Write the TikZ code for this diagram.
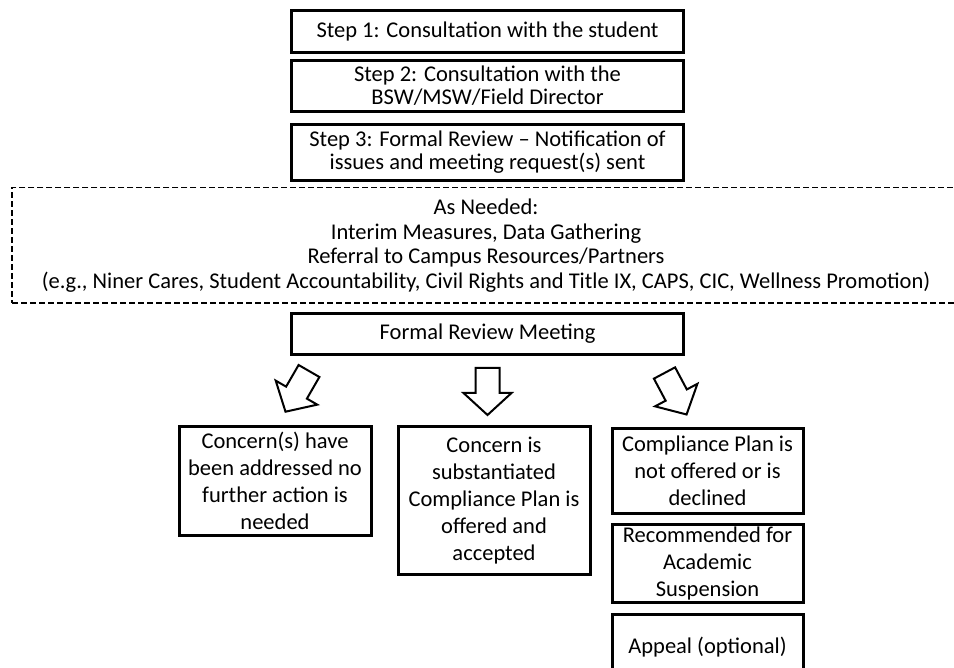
\documentclass[tikz,border=0pt]{standalone}
\usepackage{fontspec}
\setmainfont{Carlito}
\usetikzlibrary{positioning}

\begin{document}
\begin{tikzpicture}[font=\fontsize{11.25}{11.5}\selectfont,
  box/.style={draw, line width=1.5pt, align=center, inner sep=1pt, minimum width=196pt},
  outcome/.style={draw, line width=1.5pt, align=center, inner sep=1pt, minimum width=96pt,
    font=\fontsize{11.25}{13.4}\selectfont},
  needed/.style={draw, dash pattern=on 3pt off 1.5pt, line width=0.75pt, align=center,
    minimum width=474pt, minimum height=57.75pt, font=\fontsize{11.25}{12.25}\selectfont},
  downarrow/.pic={\draw[line width=1pt, line join=miter]
    (-6pt,0) -- (6pt,0) -- (6pt,-12.5pt) -- (12pt,-12.5pt) -- (0,-23.5pt)
    -- (-12pt,-12.5pt) -- (-6pt,-12.5pt) -- cycle;}]
  \useasboundingbox (0,0) rectangle (477pt,-334pt);
  \clip (0,0) rectangle (477pt,-334pt);
  % steps
  \node[box, minimum height=21pt] (s1) at (243.75pt,-15.75pt) {Step 1: Consultation with the student};
  \node[box, minimum height=25.5pt, below=2.5pt of s1] (s2) {Step 2: Consultation with the\\BSW/MSW/Field Director};
  \node[box, minimum height=28pt, below=5pt of s2] (s3) {Step 3: Formal Review -- Notification of\\issues and meeting request(s) sent};
  \node[needed, below=2.5pt of s3, xshift=-0.75pt] (need) {As Needed:\\Interim Measures, Data Gathering\\Referral to Campus Resources/Partners\\(e.g., Niner Cares, Student Accountability, Civil Rights and Title IX, CAPS, CIC, Wellness Promotion)};
  \node[box, minimum height=20.5pt, below=4pt of need, xshift=0.75pt] (frm) {Formal Review Meeting};
  % outcomes
  \node[outcome, minimum height=74pt, below=34.5pt of frm, xshift=3.25pt] (subst) {Concern is\\substantiated\\Compliance Plan is\\offered and\\accepted};
  \node[outcome, minimum height=54.5pt, left=12pt of subst.north west, anchor=north east] (done) {Concern(s) have\\been addressed no\\further action is\\needed};
  \node[outcome, minimum width=95.5pt, minimum height=42.5pt, right=9.5pt of subst.north east, anchor=north west, yshift=-1pt] (decl) {Compliance Plan is\\not offered or is\\declined};
  \node[outcome, minimum width=95.5pt, minimum height=39pt, below=4pt of decl] (susp) {Recommended for\\Academic\\Suspension};
  \node[outcome, minimum width=95.5pt, minimum height=32.5pt, below=4.5pt of susp] (appeal) {Appeal (optional)};
  % block arrows
  \pic[rotate=-30] at ([shift={(9.5pt,-7.5pt)}]frm.south west) {downarrow};
  \pic at ([yshift=-6pt]frm.south) {downarrow};
  \pic[rotate=28] at ([shift={(-10.25pt,-8.5pt)}]frm.south east) {downarrow};
\end{tikzpicture}
\end{document}
